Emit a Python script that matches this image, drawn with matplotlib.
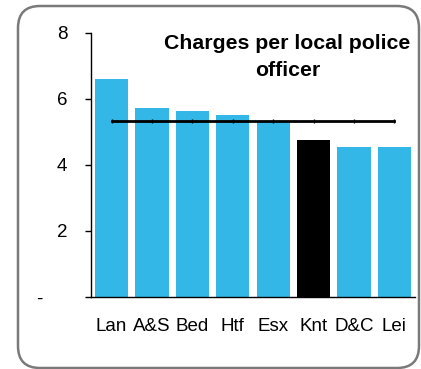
#!/usr/bin/env python3

import matplotlib
matplotlib.use("Agg")
import matplotlib.pyplot as plt
from matplotlib.patches import FancyBboxPatch
from matplotlib.transforms import IdentityTransform, ScaledTranslation

forces = ["Lan", "A&S", "Bed", "Htf", "Esx", "Knt", "D&C", "Lei"]
charges = [6.59, 5.71, 5.62, 5.50, 5.29, 4.75, 4.54, 4.54]
average = [5.31] * len(forces)
highlight = "Knt"
yticks = [0, 2, 4, 6, 8]
ytick_labels = ["-", "2", "4", "6", "8"]

plt.rcParams["font.family"] = ["Liberation Sans", "DejaVu Sans"]

W, H = 421, 369
fig = plt.figure(figsize=(W / 100, H / 100), dpi=100)
ax = fig.add_axes([91 / W, 1 - 297 / H, (415 - 91) / W, (297 - 32.5) / H])

colors = ["black" if f == highlight else "#33B7E6" for f in forces]
x = range(len(forces))
ax.bar(x, charges, width=0.82, color=colors, zorder=2)
ax.plot(x, average, color="black", lw=2, marker="|", markersize=3,
        markeredgewidth=1, zorder=3)

ax.set_xlim(-0.51, len(forces) - 0.49)
ax.set_ylim(0, 8)
ax.set_yticks(yticks)
ax.set_yticklabels(ytick_labels)
ax.set_xticks(list(x))
ax.set_xticklabels(forces)

for s in ["top", "right"]:
    ax.spines[s].set_visible(False)
for s in ["left", "bottom"]:
    ax.spines[s].set_linewidth(1)
    ax.spines[s].set_color("black")

ax.tick_params(axis="y", direction="out", length=4, width=1, pad=13, labelsize=13.5)
ax.tick_params(axis="x", length=0, pad=15, labelsize=13.5)

# the "-" zero label sits further left
zero_lbl = ax.get_yticklabels()[0]
zero_lbl.set_transform(zero_lbl.get_transform()
                       + ScaledTranslation(-25 / 100, 0, fig.dpi_scale_trans))

fig.text(287.5 / W, 1 - 34 / H, "Charges per local police\nofficer",
         ha="center", va="top", fontsize=15.3, fontweight="bold",
         linespacing=1.55)

border = FancyBboxPatch((18, 1), 401, 362, boxstyle="round,pad=0,rounding_size=22",
                        transform=IdentityTransform(), fill=False,
                        edgecolor="#7a7a7a", lw=1.8)
fig.patches.append(border)

plt.savefig("out.png", dpi=100)
